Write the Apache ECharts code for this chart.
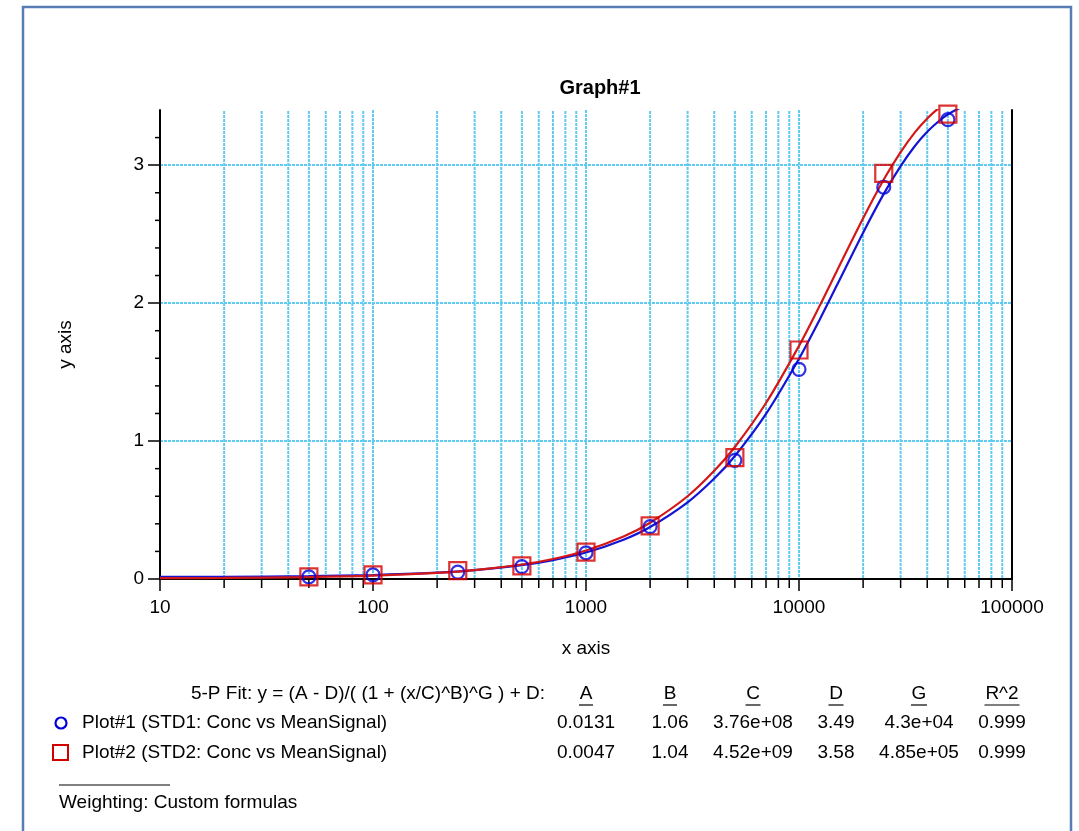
<!DOCTYPE html>
<html>
<head>
<meta charset="utf-8">
<script src="https://cdn.jsdelivr.net/npm/echarts@6/dist/echarts.min.js"></script>
<style>
  html, body { margin: 0; padding: 0; background: #fff; }
  #main { width: 1079px; height: 831px; }
</style>
</head>
<body>
<div id="main"></div>
<script>
// measured points (conc vs mean signal)
var concX = [50, 100, 250, 500, 1000, 2000, 5000, 10000, 25000, 50000];
var std1 = [0.015, 0.03, 0.05, 0.09, 0.19, 0.38, 0.86, 1.52, 2.84, 3.33];
var std2 = [0.015, 0.03, 0.06, 0.095, 0.195, 0.385, 0.88, 1.66, 2.94, 3.37];

// fitted curves
var fitX = [10, 20, 50, 100, 200, 300, 500, 700, 1000, 1500, 2000, 3000, 4000, 5000, 7000,
  10000, 12500, 15000, 20000, 25000, 30000, 35000, 40000, 45000, 50000, 55000, 60000];
var fit1 = [0.015, 0.016, 0.021, 0.029, 0.046, 0.064, 0.100, 0.137, 0.192, 0.285, 0.377, 0.556, 0.728, 0.892, 1.197,
  1.597, 1.880, 2.124, 2.511, 2.792, 2.993, 3.139, 3.242, 3.315, 3.368, 3.404, 3.43];
var fit2 = [0.006, 0.008, 0.014, 0.024, 0.044, 0.064, 0.105, 0.145, 0.207, 0.308, 0.408, 0.600, 0.784, 0.957, 1.276,
  1.690, 1.980, 2.228, 2.615, 2.896, 3.095, 3.238, 3.339, 3.41, 3.46, 3.496, 3.52];

// axis ticks
var yTicks = [0, 1, 2, 3];
var yMinor = [0.2, 0.4, 0.6, 0.8, 1.2, 1.4, 1.6, 1.8, 2.2, 2.4, 2.6, 2.8, 3.2];
var xMinor = [20, 30, 40, 50, 60, 70, 80, 90, 200, 300, 400, 500, 600, 700, 800, 900,
  2000, 3000, 4000, 5000, 6000, 7000, 8000, 9000, 20000, 30000, 40000, 50000, 60000, 70000, 80000, 90000];

// fit table
var fitHeaders = ["A", "B", "C", "D", "G", "R^2"];
var plot1Params = ["0.0131", "1.06", "3.76e+08", "3.49", "4.3e+04", "0.999"];
var plot2Params = ["0.0047", "1.04", "4.52e+09", "3.58", "4.85e+05", "0.999"];

var FONT = "Liberation Sans, Arial, sans-serif";
var TXT = "19px " + FONT;
var GRID_COLOR = "#5fcbf0";
var Y_MAX = 3.4;

var myChart = echarts.init(document.getElementById("main"));

var gridLineStyle = { color: GRID_COLOR, width: 2, type: [3, 1] };

// table columns
var colX = [586, 670, 753, 836, 919, 1002];
var underlineW = [14, 14, 15, 15, 16, 35];
var tableGraphics = [];
tableGraphics.push({
  type: "text", x: 545, y: 694,
  style: { text: "5-P Fit: y = (A - D)/( (1 + (x/C)^B)^G ) + D:", font: TXT, fill: "#000", textAlign: "right", textVerticalAlign: "middle" }
});
fitHeaders.forEach(function (h, i) {
  tableGraphics.push({
    type: "text", x: colX[i], y: 694,
    style: { text: h, font: TXT, fill: "#000", textAlign: "center", textVerticalAlign: "middle" }
  });
  tableGraphics.push({
    type: "line", shape: { x1: colX[i] - underlineW[i] / 2, y1: 705, x2: colX[i] + underlineW[i] / 2, y2: 705 },
    style: { stroke: "#000", lineWidth: 1.2 }
  });
  tableGraphics.push({
    type: "text", x: colX[i], y: 723,
    style: { text: plot1Params[i], font: TXT, fill: "#000", textAlign: "center", textVerticalAlign: "middle" }
  });
  tableGraphics.push({
    type: "text", x: colX[i], y: 753,
    style: { text: plot2Params[i], font: TXT, fill: "#000", textAlign: "center", textVerticalAlign: "middle" }
  });
});
tableGraphics.push(
  { type: "circle", shape: { cx: 61, cy: 723, r: 5.5 }, style: { fill: "none", stroke: "#0000dd", lineWidth: 2.2 } },
  { type: "text", x: 82, y: 723, style: { text: "Plot#1 (STD1: Conc vs MeanSignal)", font: TXT, fill: "#000", textVerticalAlign: "middle" } },
  { type: "rect", shape: { x: 53, y: 745, width: 15, height: 15 }, style: { fill: "none", stroke: "#d40000", lineWidth: 2 } },
  { type: "text", x: 82, y: 753, style: { text: "Plot#2 (STD2: Conc vs MeanSignal)", font: TXT, fill: "#000", textVerticalAlign: "middle" } },
  { type: "line", shape: { x1: 59, y1: 785, x2: 170, y2: 785 }, style: { stroke: "#000", lineWidth: 1 } },
  { type: "text", x: 59, y: 803, style: { text: "Weighting: Custom formulas", font: TXT, fill: "#000", textVerticalAlign: "middle" } }
);

var option = {
  backgroundColor: "#fff",
  animation: false,
  grid: { left: 160, top: 110, width: 852, height: 469, containLabel: false },
  graphic: [
    { type: "rect", shape: { x: 23, y: 7, width: 1048, height: 900 }, style: { fill: "none", stroke: "#5a7cb4", lineWidth: 2.5 }, z: -1 },
    { type: "text", x: 600, y: 88, style: { text: "Graph#1", font: "bold 20px " + FONT, fill: "#000", textAlign: "center", textVerticalAlign: "middle" } }
  ].concat(tableGraphics),
  xAxis: [
    {
      type: "log",
      logBase: 10,
      min: 10,
      max: 100000,
      name: "x axis",
      nameLocation: "middle",
      nameGap: 60,
      nameTextStyle: { fontSize: 19, fontFamily: FONT, color: "#000" },
      axisLine: { lineStyle: { color: "#000", width: 2 } },
      axisTick: { length: 12, lineStyle: { color: "#000", width: 1.5 } },
      axisLabel: {
        fontSize: 19, fontFamily: FONT, color: "#000", margin: 19,
        formatter: function (v) { return String(Math.round(v)); }
      },
      splitLine: { show: true, lineStyle: gridLineStyle }
    },
    {
      type: "log", logBase: 10, min: 10, max: 100000, position: "top",
      axisLine: { lineStyle: { color: "#000", width: 2 } },
      axisTick: { show: false }, axisLabel: { show: false }, splitLine: { show: false }
    }
  ],
  yAxis: [
    {
      type: "value",
      min: 0,
      max: Y_MAX,
      interval: 1,
      name: "y axis",
      nameLocation: "middle",
      nameGap: 85,
      nameTextStyle: { fontSize: 19, fontFamily: FONT, color: "#000" },
      axisLine: { show: true, lineStyle: { color: "#000", width: 2 } },
      axisTick: { show: true, length: 12, customValues: yTicks, lineStyle: { color: "#000", width: 1.5 } },
      axisLabel: { fontSize: 19, fontFamily: FONT, color: "#000", margin: 16, customValues: yTicks },
      splitLine: { show: true, lineStyle: gridLineStyle }
    },
    {
      type: "value", min: 0, max: Y_MAX, position: "right",
      axisLine: { show: true, lineStyle: { color: "#000", width: 2 } },
      axisTick: { show: false }, axisLabel: { show: false }, splitLine: { show: false }
    }
  ],
  series: [
    {
      // minor vertical grid lines + minor x ticks
      type: "custom",
      silent: true,
      z: 1,
      clip: false,
      data: xMinor.map(function (v) { return [v, 0]; }),
      renderItem: function (params, api) {
        var v = api.value(0);
        var top = api.coord([v, Y_MAX]);
        var bot = api.coord([v, 0]);
        return {
          type: "group",
          children: [
            { type: "line", shape: { x1: top[0], y1: top[1] + 1, x2: bot[0], y2: bot[1] - 1 }, style: { stroke: GRID_COLOR, lineWidth: 2, lineDash: [3, 1] } },
            { type: "line", shape: { x1: bot[0], y1: bot[1], x2: bot[0], y2: bot[1] + 9 }, style: { stroke: "#000", lineWidth: 1.5 } }
          ]
        };
      }
    },
    {
      // minor y ticks
      type: "custom",
      silent: true,
      z: 1,
      clip: false,
      data: yMinor.map(function (v) { return [10, v]; }),
      renderItem: function (params, api) {
        var p = api.coord([10, api.value(1)]);
        return { type: "line", shape: { x1: p[0] - 5, y1: p[1], x2: p[0], y2: p[1] }, style: { stroke: "#000", lineWidth: 1.5 } };
      }
    },
    {
      name: "Plot#1 fit",
      type: "line",
      z: 3,
      smooth: 0.3,
      symbol: "none",
      lineStyle: { color: "#1414d6", width: 2.2 },
      data: fitX.map(function (x, i) { return [x, fit1[i]]; })
    },
    {
      name: "Plot#2 fit",
      type: "line",
      z: 4,
      smooth: 0.3,
      symbol: "none",
      lineStyle: { color: "#d41818", width: 2.2 },
      data: fitX.map(function (x, i) { return [x, fit2[i]]; })
    },
    {
      name: "Plot#1 (STD1: Conc vs MeanSignal)",
      type: "scatter",
      z: 5,
      symbol: "circle",
      symbolSize: 13,
      itemStyle: { color: "rgba(0,0,0,0)", borderColor: "#0000dd", borderWidth: 2.2 },
      data: concX.map(function (x, i) { return [x, std1[i]]; })
    },
    {
      name: "Plot#2 (STD2: Conc vs MeanSignal)",
      type: "scatter",
      z: 6,
      symbol: "rect",
      symbolSize: 17,
      itemStyle: { color: "rgba(0,0,0,0)", borderColor: "#d40000", borderWidth: 2.2 },
      data: concX.map(function (x, i) { return [x, std2[i]]; })
    }
  ]
};

option && myChart.setOption(option);
</script>
</body>
</html>
